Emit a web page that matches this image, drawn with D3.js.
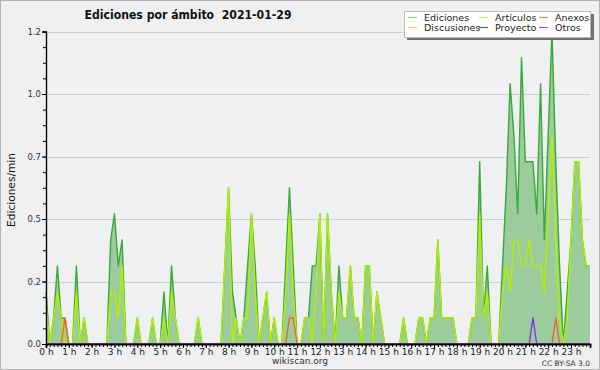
<!DOCTYPE html>
<html><head><meta charset="utf-8">
<script src="https://cdn.jsdelivr.net/npm/d3@7"></script>
<style>
html,body{margin:0;padding:0;background:#eff0f1;}
svg{display:block;}
text{font-family:"DejaVu Sans",sans-serif;}
</style></head>
<body>
<script>
// ---- data (10-minute bins, edits per minute) ----
const hourLabels = ["0 h","1 h","2 h","3 h","4 h","5 h","6 h","7 h","8 h","9 h","10 h","11 h","12 h","13 h","14 h","15 h","16 h","17 h","18 h","19 h","20 h","21 h","22 h","23 h"];
const yTickValues = [0, 0.24, 0.48, 0.72, 0.96, 1.2];
const yTickLabels = ["0.0","0.2","0.5","0.7","1.0","1.2"];
const seriesNames = ["Ediciones","Artículos","Anexos","Discusiones","Proyecto","Otros"];

const ediciones = [
 0.2,0,0.1,0.3,0.1,0.1, 0,0,0.3,0,0.1,0, 0,0,0,0,0,0.4, 0.5,0.3,0.4,0,0,0,
 0.1,0,0,0,0.1,0, 0,0.2,0,0.3,0.1,0, 0,0,0,0,0.1,0, 0,0,0,0,0,0.3,
 0.6,0.2,0.1,0,0.1,0.3, 0.5,0.3,0,0.1,0.2,0, 0.1,0,0,0.3,0.6,0.3, 0,0,0.1,0.1,0.3,0.3,
 0.5,0,0.5,0.2,0,0.3, 0.1,0.1,0.3,0.1,0.1,0, 0.3,0.3,0,0.2,0.1,0, 0,0,0,0,0.1,0,
 0,0,0.1,0.1,0,0.1, 0.1,0.4,0.1,0.1,0.1,0.1, 0,0,0,0,0.1,0.1, 0.7,0.1,0.3,0,0,0,
 0.3,0.6,1.0,0.8,0.5,1.1, 0.7,0.7,0.7,0.5,1.0,0.4, 0.8,1.2,0.7,0.3,0,0.2, 0.4,0.7,0.7,0.4,0.3,0.3
];
const articulos = [
 0.15,0,0.1,0.2,0.1,0, 0,0,0.2,0,0.1,0, 0,0,0,0,0,0.2, 0.2,0.1,0.3,0,0,0,
 0.1,0,0,0,0.1,0, 0,0.1,0,0.2,0.1,0, 0,0,0,0,0.1,0, 0,0,0,0,0,0.3,
 0.6,0,0.1,0,0.1,0.1, 0.5,0.2,0,0.1,0.2,0, 0.1,0,0,0.2,0.5,0.2, 0,0,0.1,0.1,0,0.2,
 0.5,0,0.5,0.2,0,0.2, 0.1,0.1,0.3,0.1,0.1,0, 0.3,0.3,0,0.2,0.1,0, 0,0,0,0,0.1,0,
 0,0,0.1,0.1,0,0.1, 0.1,0.4,0.1,0.1,0.1,0.1, 0,0,0,0,0.1,0.1, 0.5,0.1,0.2,0,0,0,
 0.2,0.3,0.2,0.4,0.4,0.3, 0.3,0.4,0.3,0.3,0.3,0.2, 0.5,0.8,0.4,0.1,0,0.1, 0.4,0.7,0.7,0.4,0.3,0.3
];
const anexos = new Array(144).fill(0);
anexos[5]=0.1; anexos[64]=0.1; anexos[65]=0.1; anexos[134]=0.1;
const discusiones = new Array(144).fill(0);
discusiones[5]=0.1;
const proyecto = new Array(144).fill(0);
const otros = new Array(144).fill(0);
otros[128]=0.1;

// ---- layout ----
const W=600,H=370;
const svg=d3.select("body").append("svg").attr("width",W).attr("height",H);
svg.append("rect").attr("x",0.5).attr("y",0.5).attr("width",W-1).attr("height",H-1)
  .attr("fill","#eff0f1").attr("stroke","#b4b4b4");

const x=d3.scaleLinear().domain([0,143]).range([46,590]);
const y=d3.scaleLinear().domain([0,1.2]).range([344,31.5]);

// grid
svg.append("g").selectAll("line").data(yTickValues.slice(1)).join("line")
  .attr("x1",46).attr("x2",590).attr("y1",d=>Math.round(y(d))+0.5).attr("y2",d=>Math.round(y(d))+0.5)
  .attr("stroke","#cfcfcf").attr("stroke-width",1);

// area
const idx=d3.range(144);
const area=d3.area().x(i=>x(i)).y0(y(0)).y1(i=>y(ediciones[i]));
svg.append("path").datum(idx).attr("d",area).attr("fill","#9ccb9c");

function line(arr,color,w){
  svg.append("path").datum(idx)
   .attr("d",d3.line().x(i=>x(i)).y(i=>y(arr[i])))
   .attr("fill","none").attr("stroke",color).attr("stroke-width",w).attr("stroke-linejoin","round");
}
line(ediciones,"#3aa83a",1.4);
line(discusiones,"#f0d020",1.3);
line(proyecto,"#555555",1.3);
line(articulos,"#b4f000",1.4);
line(anexos,"#f0641e",1.3);
line(otros,"#7a30f0",1.3);

// axes
const gx=svg.append("g").attr("transform","translate(0,344)");
gx.call(d3.axisBottom(x).tickValues(idx).tickSize(3).tickFormat(""));
const gx2=svg.append("g").attr("transform","translate(0,344)");
gx2.call(d3.axisBottom(x).tickValues(d3.range(0,144,6)).tickSize(4).tickPadding(1)
  .tickFormat(d=>hourLabels[d/6]));
[gx,gx2].forEach(g=>{
  g.select(".domain").attr("stroke","#000").attr("stroke-width",1.6);
  g.selectAll(".tick line").attr("stroke","#000");
  g.selectAll("text").attr("font-size",9).attr("fill","#222");
});

const gy=svg.append("g").attr("transform","translate(46,0)");
gy.call(d3.axisLeft(y).tickValues(d3.range(0,1.2001,0.06)).tickSize(3).tickFormat(""));
const gy2=svg.append("g").attr("transform","translate(46,0)");
gy2.call(d3.axisLeft(y).tickValues(yTickValues).tickSize(4).tickPadding(1)
  .tickFormat((d,i)=>yTickLabels[i]));
[gy,gy2].forEach(g=>{
  g.select(".domain").attr("stroke","#000").attr("stroke-width",1.2);
  g.selectAll(".tick line").attr("stroke","#000");
  g.selectAll("text").attr("font-size",8.5).attr("fill","#333");
});

// texts
svg.append("text").attr("x",188).attr("y",19).attr("text-anchor","middle")
  .attr("font-weight","bold").attr("font-size",12.5).attr("fill","#111")
  .attr("textLength",207).attr("lengthAdjust","spacingAndGlyphs")
  .style("white-space","pre")
  .text("Ediciones por ámbito  2021-01-29");
svg.append("text").attr("transform","translate(15,190) rotate(-90)").attr("text-anchor","middle")
  .attr("font-size",10).attr("fill","#111").attr("textLength",74).attr("lengthAdjust","spacingAndGlyphs")
  .text("Ediciones/min");
svg.append("text").attr("x",300).attr("y",364).attr("text-anchor","middle")
  .attr("font-size",9).attr("fill","#333").text("wikiscan.org");
svg.append("text").attr("x",590).attr("y",366).attr("text-anchor","end")
  .attr("font-size",7.5).attr("fill","#333").text("CC BY-SA 3.0");

// legend
const lg=svg.append("g");
lg.append("rect").attr("x",407).attr("y",14).attr("width",187).attr("height",26).attr("fill","#707070");
lg.append("rect").attr("x",404.5).attr("y",11.5).attr("width",186).attr("height",26)
  .attr("fill","#ffffff").attr("stroke","#bbbbbb");
const legendColors=["#88cc88","#ccf060","#f08a5a","#f4d860","#666666","#9a5af0"];
const legPos=[[408,21],[479,21],[539,21],[408,31],[479,31],[539,31]];
const legOrder=[0,1,2,3,4,5];
legOrder.forEach((s,k)=>{
  const [lx,ly]=legPos[k];
  lg.append("line").attr("x1",lx).attr("x2",lx+9).attr("y1",ly-3.5).attr("y2",ly-3.5)
    .attr("stroke",legendColors[s]).attr("stroke-width",1.2);
  lg.append("text").attr("x",lx+16).attr("y",ly).attr("font-size",9.5).attr("fill","#222")
    .text(seriesNames[s]);
});
</script>
</body></html>
